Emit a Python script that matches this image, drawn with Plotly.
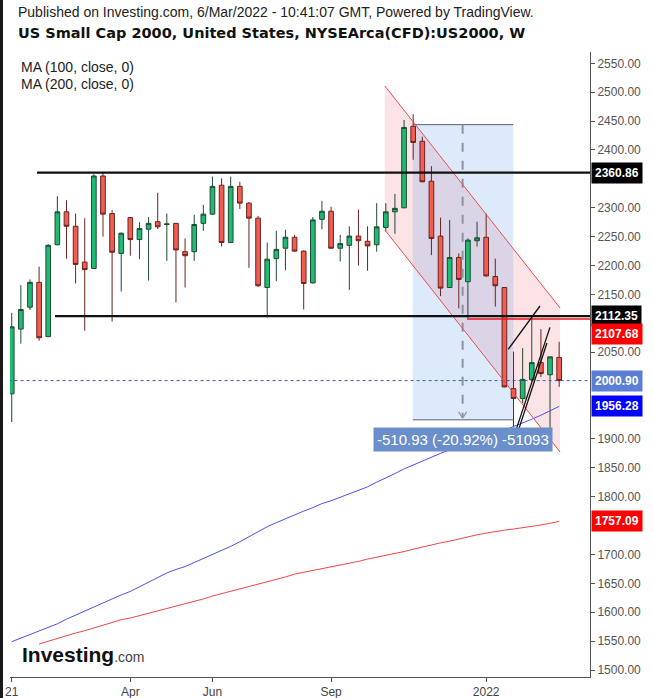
import plotly.graph_objects as go
import pandas as pd

# ---------------- data ----------------
weeks = pd.date_range("2021-01-04", periods=61, freq="7D")
opens = [1978, 2090, 2128, 2171, 2077, 2236, 2293, 2268, 2206, 2195, 2355, 2290, 2221, 2283, 2245, 2263, 2276, 2271, 2273, 2224,
         2224, 2273, 2289, 2339, 2240, 2337, 2308, 2282, 2162, 2212, 2230, 2249, 2225, 2170, 2280, 2294, 2230, 2235, 2251, 2242,
         2236, 2266, 2293, 2300, 2441, 2415, 2346, 2251, 2162, 2214, 2172, 2243, 2249, 2181, 2162, 1987, 1970, 2003, 2032, 2011, 2041]
highs = [2118, 2166, 2176, 2198, 2237, 2320, 2313, 2290, 2282, 2358, 2361, 2296, 2257, 2284, 2275, 2284, 2326, 2290, 2274, 2247,
         2288, 2305, 2354, 2351, 2354, 2345, 2310, 2286, 2240, 2260, 2262, 2253, 2226, 2284, 2312, 2302, 2253, 2268, 2297, 2268,
         2308, 2308, 2324, 2452, 2462, 2423, 2372, 2283, 2279, 2221, 2247, 2276, 2290, 2212, 2163, 2051, 2057, 2110, 2090, 2042, 2068]
lows = [1929, 2065, 2123, 2070, 2076, 2235, 2212, 2169, 2087, 2194, 2250, 2103, 2155, 2217, 2211, 2174, 2263, 2208, 2136, 2162,
        2208, 2260, 2288, 2233, 2239, 2298, 2196, 2163, 2110, 2173, 2192, 2224, 2124, 2169, 2263, 2229, 2207, 2158, 2200, 2191,
        2224, 2259, 2255, 2299, 2383, 2344, 2218, 2147, 2161, 2126, 2109, 2233, 2181, 2129, 1989, 1920, 1962, 2000, 2007, 1898, 1990]
closes = [2094, 2124, 2171, 2075, 2235, 2293, 2268, 2202, 2193, 2355, 2289, 2223, 2256, 2245, 2264, 2273, 2267, 2272, 2227, 2217,
          2271, 2289, 2337, 2240, 2337, 2308, 2282, 2165, 2211, 2228, 2249, 2225, 2169, 2279, 2294, 2230, 2238, 2251, 2243, 2234,
          2267, 2293, 2299, 2439, 2413, 2345, 2247, 2161, 2214, 2176, 2244, 2248, 2182, 2165, 1990, 1970, 2003, 2032, 2013, 2042, 2000.90]
ma100 = [1549, 1555, 1561, 1567, 1573, 1580, 1588, 1595, 1602, 1609, 1617, 1623, 1630, 1636, 1644, 1652, 1660, 1668, 1674, 1679,
         1686, 1693, 1700, 1706, 1714, 1722, 1731, 1740, 1748, 1755, 1762, 1768, 1775, 1781, 1788, 1793, 1799, 1804, 1810, 1817,
         1825, 1832, 1840, 1848, 1855, 1862, 1869, 1875, 1881, 1886, 1892, 1898, 1903, 1909, 1915, 1921, 1927, 1934, 1941, 1948, 1956.28]
ma200 = [None, None, None, 1545, 1550, 1554, 1559, 1564, 1568, 1573, 1578, 1583, 1587, 1590, 1594, 1598, 1602, 1607, 1611, 1615,
         1619, 1623, 1628, 1632, 1637, 1641, 1645, 1649, 1653, 1657, 1661, 1666, 1669, 1672, 1675, 1678, 1681, 1685, 1688, 1692,
         1695, 1698, 1701, 1705, 1709, 1713, 1716, 1720, 1723, 1727, 1730, 1734, 1737, 1740, 1742, 1744, 1746, 1748, 1751, 1754, 1757.09]

tick_idx = [0, 13, 22, 35, 52]
tick_text = ["21", "Apr", "Jun", "Sep", "2022"]
# tick values whose labels are covered by the price boxes in the original are left out
y_ticks = [v for v in range(1500, 2551, 50) if v not in (2350, 2100, 2000, 1950, 1750)]

resistance = 2360.86
support = 2112.35
red_level = 2107.68
last_price = 2000.90
ma100_last = 1956.28
ma200_last = 1757.09

# drawings (bar index, price)
channel_x = [40.9, 60.1]
channel_upper = [2510.7, 2126.5]
channel_lower = [2261.5, 1877.3]
measure_x = [43.95, 54.97]
measure_y = [2443.90, 1932.97]
measure_mid = 49.42
trend_lines = [((54.42, 2055), (57.9, 2130)), ((55.16, 1910), (58.99, 2093)), ((55.43, 1910), (58.66, 2066))]

x = list(range(len(weeks)))
FONT = "Liberation Sans, Arial, sans-serif"

fig = go.Figure()
fig.add_trace(go.Scatter(x=x, y=ma100, mode="lines", line=dict(color="#5050ee", width=1), hoverinfo="skip"))
fig.add_trace(go.Scatter(x=x, y=ma200, mode="lines", line=dict(color="#f04646", width=1), hoverinfo="skip"))
fig.add_trace(go.Candlestick(
    x=x, open=opens, high=highs, low=lows, close=closes,
    increasing=dict(fillcolor="#1fbb72", line=dict(color="#1f4a34", width=1)),
    decreasing=dict(fillcolor="#f25d52", line=dict(color="#6a231e", width=1)),
    whiskerwidth=0))

shapes = []
path = (f"M {channel_x[0]},{channel_upper[0]} L {channel_x[1]},{channel_upper[1]} "
        f"L {channel_x[1]},{channel_lower[1]} L {channel_x[0]},{channel_lower[0]} Z")
shapes.append(dict(type="path", path=path, xref="x", yref="y", fillcolor="rgba(240,90,100,0.17)",
                   line=dict(width=0), layer="below"))
shapes.append(dict(type="rect", x0=measure_x[0], x1=measure_x[1], y0=measure_y[1], y1=measure_y[0],
                   xref="x", yref="y", fillcolor="rgba(100,160,235,0.22)", line=dict(width=0), layer="below"))
for yy in measure_y:
    shapes.append(dict(type="line", x0=measure_x[0], x1=measure_x[1], y0=yy, y1=yy, xref="x", yref="y",
                       line=dict(color="#5a6270", width=1)))
shapes.append(dict(type="line", x0=measure_mid, x1=measure_mid, y0=measure_y[0], y1=measure_y[1] + 4,
                   xref="x", yref="y", line=dict(color="#8a93a0", width=2, dash="dash")))
shapes.append(dict(type="line", x0=measure_mid - 0.45, x1=measure_mid, y0=measure_y[1] + 14, y1=measure_y[1] + 3,
                   xref="x", yref="y", line=dict(color="#8a93a0", width=1.2)))
shapes.append(dict(type="line", x0=measure_mid + 0.45, x1=measure_mid, y0=measure_y[1] + 14, y1=measure_y[1] + 3,
                   xref="x", yref="y", line=dict(color="#8a93a0", width=1.2)))
shapes.append(dict(type="line", x0=channel_x[0], x1=channel_x[1], y0=channel_upper[0], y1=channel_upper[1],
                   xref="x", yref="y", line=dict(color="#ee4b4b", width=1)))
shapes.append(dict(type="line", x0=channel_x[0], x1=channel_x[1], y0=channel_lower[0], y1=channel_lower[1],
                   xref="x", yref="y", line=dict(color="#ee4b4b", width=1)))
shapes.append(dict(type="line", x0=2.77, x1=63.4, y0=resistance, y1=resistance, xref="x", yref="y",
                   line=dict(color="#111111", width=2.2)))
shapes.append(dict(type="line", x0=4.75, x1=63.4, y0=support, y1=support, xref="x", yref="y",
                   line=dict(color="#111111", width=2.2)))
shapes.append(dict(type="line", x0=49.9, x1=63.4, y0=red_level, y1=red_level, xref="x", yref="y",
                   line=dict(color="#e81818", width=1.5)))
shapes.append(dict(type="line", x0=-1, x1=64, y0=last_price, y1=last_price, xref="x", yref="y",
                   line=dict(color="#3d5bb0", width=1, dash="dot")))
for (a, b) in trend_lines:
    shapes.append(dict(type="line", x0=a[0], y0=a[1], x1=b[0], y1=b[1], xref="x", yref="y",
                       line=dict(color="#111111", width=1.3)))
shapes.append(dict(type="rect", xref="paper", yref="paper", x0=-10 / 580, x1=-7 / 580, y0=-21 / 625, y1=1 + 52 / 625,
                   fillcolor="#1a1a1a", line=dict(width=0), layer="above"))

annotations = []
def px_x(px):
    return (px - 10) / 580
def px_y(py):
    return (677 - py) / 625

annotations.append(dict(xref="paper", yref="paper", x=px_x(16), y=px_y(12), xanchor="left", yanchor="middle",
                        text="Published on Investing.com, 6/Mar/2022 - 10:41:07 GMT, Powered by TradingView.",
                        showarrow=False, font=dict(family=FONT, size=14, color="#222222")))
annotations.append(dict(xref="paper", yref="paper", x=px_x(16), y=px_y(33), xanchor="left", yanchor="middle",
                        text="<b>US Small Cap 2000, United States, NYSEArca(CFD):US2000, W</b>",
                        showarrow=False, font=dict(family="DejaVu Sans, Verdana, sans-serif", size=14.5, color="#111111")))
annotations.append(dict(xref="paper", yref="paper", x=px_x(19), y=px_y(67), xanchor="left", yanchor="middle",
                        text="MA (100, close, 0)", showarrow=False, font=dict(family=FONT, size=14, color="#222222")))
annotations.append(dict(xref="paper", yref="paper", x=px_x(19), y=px_y(84), xanchor="left", yanchor="middle",
                        text="MA (200, close, 0)", showarrow=False, font=dict(family=FONT, size=14, color="#222222")))
annotations.append(dict(xref="paper", yref="paper", x=px_x(20), y=px_y(654), xanchor="left", yanchor="middle",
                        text="<b>Investing</b><span style='font-size:14px;color:#444444'>.com</span>",
                        showarrow=False, font=dict(family=FONT, size=21, color="#111111")))

for val, bg, shift in [(resistance, "#000000", 0), (support, "#000000", 0), (red_level, "#ff0000", -15),
                       (last_price, "#5b7fd9", 0), (ma100_last, "#0000ff", 0), (ma200_last, "#ff0000", 0)]:
    annotations.append(dict(xref="paper", yref="y", x=1, y=val, xanchor="left", yanchor="middle", xshift=1,
                            yshift=shift, text=f"<b>{val:.2f}</b>", showarrow=False, bgcolor=bg, borderpad=3,
                            font=dict(family=FONT, size=12, color="#ffffff")))
annotations.append(dict(xref="x", yref="y", x=49.46, y=1899.8, xanchor="center", yanchor="middle",
                        text="-510.93 (-20.92%) -51093", showarrow=False, bgcolor="#6b8fca", borderpad=3,
                        font=dict(family=FONT, size=15, color="#ffffff")))

fig.update_layout(
    width=653, height=698, margin=dict(l=10, r=63, t=52, b=21, autoexpand=False),
    paper_bgcolor="white", plot_bgcolor="white", showlegend=False,
    shapes=shapes, annotations=annotations, boxgap=0.27,
    xaxis=dict(range=[-0.19, 63.38], rangeslider=dict(visible=False), showgrid=False, zeroline=False,
               automargin=False, showline=True, linecolor="#555555", linewidth=1, ticks="outside", ticklen=4,
               tickcolor="#555555", tickvals=tick_idx, ticktext=tick_text,
               tickfont=dict(family=FONT, size=12, color="#444444")),
    yaxis=dict(side="right", range=[1487.9, 2569.6], showgrid=False, zeroline=False, showline=True,
               automargin=False, linecolor="#555555", linewidth=1, ticks="outside", ticklen=4, tickcolor="#555555",
               tickvals=y_ticks, ticktext=[f"{v:.2f}" for v in y_ticks],
               tickfont=dict(family=FONT, size=12, color="#555555")),
)
fig.write_html("out.html", config={"displayModeBar": False},
               post_script="document.body.style.margin='0px';")
